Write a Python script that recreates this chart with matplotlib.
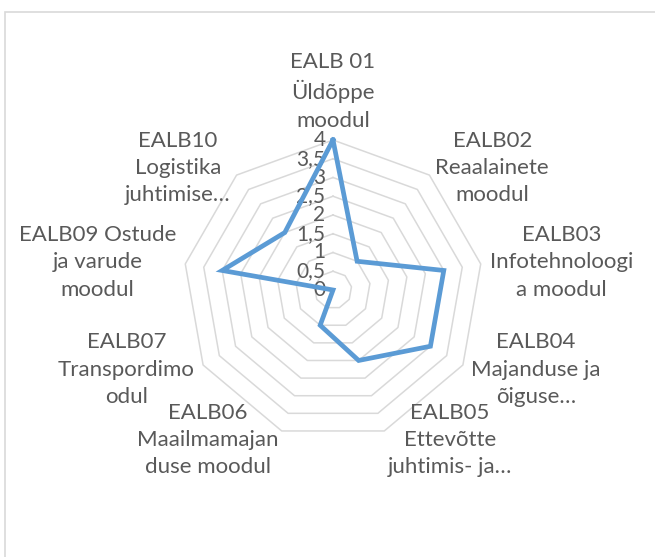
import numpy as np
import matplotlib
matplotlib.use("Agg")
import matplotlib.pyplot as plt
from matplotlib.patches import Rectangle

plt.rcParams["font.family"] = ["Lato", "DejaVu Sans"]

# data
categories = [
    "EALB 01\nÜldõppe\nmoodul",
    "EALB02\nReaalainete\nmoodul",
    "EALB03\nInfotehnoloogi\na moodul",
    "EALB04\nMajanduse ja\nõiguse…",
    "EALB05\nEttevõtte\njuhtimis- ja…",
    "EALB06\nMaailmamajan\nduse moodul",
    "EALB07\nTranspordimo\nodul",
    "EALB09 Ostude\nja varude\nmoodul",
    "EALB10\nLogistika\njuhtimise…",
]
values = [4, 1, 3, 3, 2, 1, 0, 3, 2]
ticks = [0, 0.5, 1, 1.5, 2, 2.5, 3, 3.5, 4]
tick_labels = ["0", "0,5", "1", "1,5", "2", "2,5", "3", "3,5", "4"]

text_col = "#595959"
grid_col = "#d9d9d9"
line_col = "#5b9bd5"

W, H = 655, 557
cx, cy = 333, 290      # centre of the radar in pixels
ppu = 37.5             # pixels per value unit

fig = plt.figure(figsize=(W / 100, H / 100), dpi=100)
ax = fig.add_axes([0, 0, 1, 1])
ax.set_xlim(-cx / ppu, (W - cx) / ppu)
ax.set_ylim(-(H - cy) / ppu, cy / ppu)
ax.axis("off")

# outer chart border
fig.patches.append(Rectangle((5 / W, -0.1), 1.2, 1.1 - 12 / H,
                             transform=fig.transFigure, fill=False,
                             edgecolor=grid_col, linewidth=1.2))

n = len(categories)
ang = np.arange(n) * 2 * np.pi / n
dx, dy = np.sin(ang), np.cos(ang)

# polygon grid
for r in ticks[1:]:
    ax.plot(np.append(dx, dx[0]) * r, np.append(dy, dy[0]) * r,
            color=grid_col, lw=1.1, zorder=1)

# tick labels
for t, lab in zip(ticks, tick_labels):
    ax.text(-0.2, t, lab, ha="right", va="center", fontsize=15,
            color=text_col, zorder=2)

# data polygon
v = np.array(values, dtype=float)
ax.plot(np.append(dx * v, dx[0] * v[0]), np.append(dy * v, dy[0] * v[0]),
        color=line_col, lw=3.4, solid_joinstyle="miter", zorder=3)

# category labels
R = 4.25
for i, lab in enumerate(categories):
    x, y = dx[i] * R, dy[i] * R
    if abs(dx[i]) < 1e-6:
        ha, va = "center", "bottom"
    elif dx[i] > 0:
        ha, va = "left", "center"
    else:
        ha, va = "right", "center"
    ax.text(x, y, lab, ha=ha, va=va, multialignment="center",
            fontsize=16, color=text_col, linespacing=1.45)

fig.savefig("out.png", dpi=100)
